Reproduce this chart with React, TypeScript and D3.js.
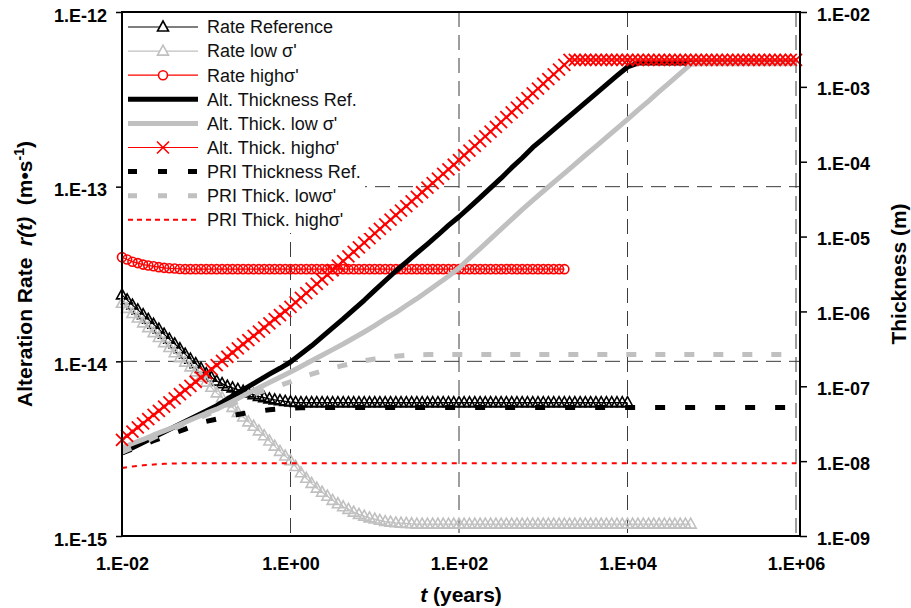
import React, { useEffect, useRef } from 'react';
import * as d3 from 'd3';

// time grid (years) for the plain lines, 8 steps per decade
const years = [
  1e-2, 1.33e-2, 1.78e-2, 2.37e-2, 3.16e-2, 4.22e-2, 5.62e-2, 7.5e-2,
  0.1, 0.133, 0.178, 0.237, 0.316, 0.422, 0.562, 0.75,
  1, 1.33, 1.78, 2.37, 3.16, 4.22, 5.62, 7.5,
  10, 13.3, 17.8, 23.7, 31.6, 42.2, 56.2, 75,
  100, 133, 178, 237, 316, 422, 562, 750,
  1000, 1330, 1780, 2370, 3160, 4220, 5620, 7500,
  1e4, 1.33e4, 1.78e4, 2.37e4, 3.16e4, 4.22e4, 5.62e4, 7.5e4,
  1e5, 1.33e5, 1.78e5, 2.37e5, 3.16e5, 4.22e5, 5.62e5, 7.5e5,
  1e6,
];

// finer time grid (years) for the marker series, 16 steps per decade
const yearsFine = [
  1e-2, 1.15e-2, 1.33e-2, 1.54e-2, 1.78e-2, 2.05e-2, 2.37e-2, 2.74e-2,
  3.16e-2, 3.65e-2, 4.22e-2, 4.87e-2, 5.62e-2, 6.49e-2, 7.5e-2, 8.66e-2,
  1e-1, 1.15e-1, 1.33e-1, 1.54e-1, 1.78e-1, 2.05e-1, 2.37e-1, 2.74e-1,
  3.16e-1, 3.65e-1, 4.22e-1, 4.87e-1, 5.62e-1, 6.49e-1, 7.5e-1, 8.66e-1,
  1, 1.15, 1.33, 1.54, 1.78, 2.05, 2.37, 2.74,
  3.16, 3.65, 4.22, 4.87, 5.62, 6.49, 7.5, 8.66,
  10, 11.5, 13.3, 15.4, 17.8, 20.5, 23.7, 27.4,
  31.6, 36.5, 42.2, 48.7, 56.2, 64.9, 75, 86.6,
  100, 115, 133, 154, 178, 205, 237, 274,
  316, 365, 422, 487, 562, 649, 750, 866,
  1000, 1150, 1330, 1540, 1780, 2050, 2370, 2740,
  3160, 3650, 4220, 4870, 5620, 6490, 7500, 8660,
  1e4, 1.15e4, 1.33e4, 1.54e4, 1.78e4, 2.05e4, 2.37e4, 2.74e4,
  3.16e4, 3.65e4, 4.22e4, 4.87e4, 5.62e4, 6.49e4, 7.5e4, 8.66e4,
  1e5, 1.15e5, 1.33e5, 1.54e5, 1.78e5, 2.05e5, 2.37e5, 2.74e5,
  3.16e5, 3.65e5, 4.22e5, 4.87e5, 5.62e5, 6.49e5, 7.5e5, 8.66e5,
  1e6,
];

// alteration rates (m/s), left axis, on yearsFine
const rateReference = [
  2.4e-14, 2.25e-14, 2.1e-14, 1.97e-14, 1.85e-14, 1.74e-14, 1.63e-14, 1.53e-14,
  1.43e-14, 1.34e-14, 1.26e-14, 1.18e-14, 1.1e-14, 1.03e-14, 9.7e-15, 9.1e-15,
  8.5e-15, 8.1e-15, 7.7e-15, 7.45e-15, 7.2e-15, 7.05e-15, 6.9e-15, 6.75e-15,
  6.6e-15, 6.45e-15, 6.3e-15, 6.2e-15, 6.1e-15, 6.02e-15, 5.95e-15, 5.9e-15,
  5.85e-15, 5.82e-15, 5.8e-15, 5.8e-15, 5.8e-15, 5.8e-15, 5.8e-15, 5.8e-15,
  5.8e-15, 5.8e-15, 5.8e-15, 5.8e-15, 5.8e-15, 5.8e-15, 5.8e-15, 5.8e-15,
  5.8e-15, 5.8e-15, 5.8e-15, 5.8e-15, 5.8e-15, 5.8e-15, 5.8e-15, 5.8e-15,
  5.8e-15, 5.8e-15, 5.8e-15, 5.8e-15, 5.8e-15, 5.8e-15, 5.8e-15, 5.8e-15,
  5.8e-15, 5.8e-15, 5.8e-15, 5.8e-15, 5.8e-15, 5.8e-15, 5.8e-15, 5.8e-15,
  5.8e-15, 5.8e-15, 5.8e-15, 5.8e-15, 5.8e-15, 5.8e-15, 5.8e-15, 5.8e-15,
  5.8e-15, 5.8e-15, 5.8e-15, 5.8e-15, 5.8e-15, 5.8e-15, 5.8e-15, 5.8e-15,
  5.8e-15, 5.8e-15, 5.8e-15, 5.8e-15, 5.8e-15, 5.8e-15, 5.8e-15, 5.8e-15,
  5.8e-15,
];
const rateLowSigma = [
  2.15e-14, 2.01e-14, 1.88e-14, 1.77e-14, 1.66e-14, 1.56e-14, 1.46e-14, 1.37e-14,
  1.28e-14, 1.2e-14, 1.12e-14, 1.05e-14, 9.9e-15, 9.3e-15, 8.7e-15, 8.1e-15,
  7.6e-15, 7.1e-15, 6.6e-15, 6.2e-15, 5.8e-15, 5.45e-15, 5.1e-15, 4.8e-15,
  4.5e-15, 4.25e-15, 4.0e-15, 3.75e-15, 3.5e-15, 3.27e-15, 3.05e-15, 2.87e-15,
  2.7e-15, 2.5e-15, 2.3e-15, 2.14e-15, 2.0e-15, 1.88e-15, 1.78e-15, 1.69e-15,
  1.6e-15, 1.53e-15, 1.47e-15, 1.42e-15, 1.37e-15, 1.33e-15, 1.3e-15, 1.27e-15,
  1.25e-15, 1.23e-15, 1.21e-15, 1.2e-15, 1.19e-15, 1.185e-15, 1.18e-15, 1.175e-15,
  1.17e-15, 1.17e-15, 1.17e-15, 1.17e-15, 1.17e-15, 1.17e-15, 1.17e-15, 1.17e-15,
  1.17e-15, 1.17e-15, 1.17e-15, 1.17e-15, 1.17e-15, 1.17e-15, 1.17e-15, 1.17e-15,
  1.17e-15, 1.17e-15, 1.17e-15, 1.17e-15, 1.17e-15, 1.17e-15, 1.17e-15, 1.17e-15,
  1.17e-15, 1.17e-15, 1.17e-15, 1.17e-15, 1.17e-15, 1.17e-15, 1.17e-15, 1.17e-15,
  1.17e-15, 1.17e-15, 1.17e-15, 1.17e-15, 1.17e-15, 1.17e-15, 1.17e-15, 1.17e-15,
  1.17e-15, 1.17e-15, 1.17e-15, 1.17e-15, 1.17e-15, 1.17e-15, 1.17e-15, 1.17e-15,
  1.17e-15, 1.17e-15, 1.17e-15, 1.17e-15, 1.17e-15,
];
const rateHighSigma = [
  3.95e-14, 3.83e-14, 3.72e-14, 3.65e-14, 3.58e-14, 3.54e-14, 3.5e-14, 3.46e-14,
  3.43e-14, 3.41e-14, 3.4e-14, 3.38e-14, 3.37e-14, 3.37e-14, 3.37e-14, 3.37e-14,
  3.37e-14, 3.37e-14, 3.37e-14, 3.37e-14, 3.37e-14, 3.37e-14, 3.37e-14, 3.37e-14,
  3.37e-14, 3.37e-14, 3.37e-14, 3.37e-14, 3.37e-14, 3.37e-14, 3.37e-14, 3.37e-14,
  3.37e-14, 3.37e-14, 3.37e-14, 3.37e-14, 3.37e-14, 3.37e-14, 3.37e-14, 3.37e-14,
  3.37e-14, 3.37e-14, 3.37e-14, 3.37e-14, 3.37e-14, 3.37e-14, 3.37e-14, 3.37e-14,
  3.37e-14, 3.37e-14, 3.37e-14, 3.37e-14, 3.37e-14, 3.37e-14, 3.37e-14, 3.37e-14,
  3.37e-14, 3.37e-14, 3.37e-14, 3.37e-14, 3.37e-14, 3.37e-14, 3.37e-14, 3.37e-14,
  3.37e-14, 3.37e-14, 3.37e-14, 3.37e-14, 3.37e-14, 3.37e-14, 3.37e-14, 3.37e-14,
  3.37e-14, 3.37e-14, 3.37e-14, 3.37e-14, 3.37e-14, 3.37e-14, 3.37e-14, 3.37e-14,
  3.37e-14, 3.37e-14, 3.37e-14, 3.37e-14, 3.37e-14,
];

// thicknesses (m), right axis
const altThicknessRef = [
  1.29e-8, 1.51e-8, 1.78e-8, 2.09e-8, 2.45e-8, 2.88e-8, 3.39e-8, 3.98e-8,
  4.68e-8, 5.5e-8, 6.76e-8, 8.13e-8, 9.9e-8, 1.2e-7, 1.45e-7, 1.74e-7,
  2.11e-7, 2.69e-7, 3.47e-7, 4.57e-7, 6.03e-7, 7.94e-7, 1.06e-6, 1.41e-6,
  1.91e-6, 2.57e-6, 3.47e-6, 4.57e-6, 6.03e-6, 7.94e-6, 1.05e-5, 1.41e-5,
  1.84e-5, 2.45e-5, 3.31e-5, 4.47e-5, 6.03e-5, 8.32e-5, 1.12e-4, 1.55e-4,
  2.04e-4, 2.69e-4, 3.55e-4, 4.68e-4, 6.17e-4, 8.13e-4, 1.07e-3, 1.41e-3,
  1.84e-3, 2.08e-3, 2.08e-3, 2.08e-3, 2.08e-3, 2.08e-3, 2.08e-3, 2.08e-3,
  2.08e-3, 2.08e-3, 2.08e-3, 2.08e-3, 2.08e-3, 2.08e-3, 2.08e-3, 2.08e-3,
  2.08e-3,
];
const altThickLow = [
  1.51e-8, 1.72e-8, 1.95e-8, 2.24e-8, 2.54e-8, 2.88e-8, 3.31e-8, 3.8e-8,
  4.37e-8, 4.95e-8, 5.82e-8, 6.84e-8, 8.13e-8, 9.55e-8, 1.12e-7, 1.32e-7,
  1.55e-7, 1.84e-7, 2.19e-7, 2.6e-7, 3.09e-7, 3.67e-7, 4.42e-7, 5.31e-7,
  6.46e-7, 7.94e-7, 9.66e-7, 1.2e-6, 1.48e-6, 1.86e-6, 2.34e-6, 2.95e-6,
  3.8e-6, 5.13e-6, 6.92e-6, 9.33e-6, 1.26e-5, 1.7e-5, 2.29e-5, 3.05e-5,
  4.03e-5, 5.31e-5, 7.0e-5, 9.23e-5, 1.22e-4, 1.6e-4, 2.11e-4, 2.79e-4,
  3.67e-4, 4.9e-4, 6.46e-4, 8.61e-4, 1.14e-3, 1.51e-3, 2.0e-3, 2.04e-3,
  2.04e-3, 2.04e-3, 2.04e-3, 2.04e-3, 2.04e-3, 2.04e-3, 2.04e-3, 2.04e-3,
  2.04e-3,
];
// on yearsFine
const altThickHigh = [
  1.92e-8, 2.18e-8, 2.48e-8, 2.82e-8, 3.2e-8, 3.64e-8, 4.14e-8, 4.71e-8,
  5.35e-8, 6.08e-8, 6.9e-8, 7.84e-8, 8.9e-8, 1.01e-7, 1.15e-7, 1.31e-7,
  1.49e-7, 1.69e-7, 1.92e-7, 2.18e-7, 2.48e-7, 2.82e-7, 3.21e-7, 3.65e-7,
  4.15e-7, 4.72e-7, 5.36e-7, 6.09e-7, 6.92e-7, 7.87e-7, 8.94e-7, 1.01e-6,
  1.15e-6, 1.32e-6, 1.52e-6, 1.75e-6, 2.02e-6, 2.33e-6, 2.68e-6, 3.08e-6,
  3.55e-6, 4.09e-6, 4.71e-6, 5.42e-6, 6.24e-6, 7.19e-6, 8.28e-6, 9.54e-6,
  1.1e-5, 1.27e-5, 1.46e-5, 1.68e-5, 1.93e-5, 2.22e-5, 2.56e-5, 2.95e-5,
  3.39e-5, 3.91e-5, 4.5e-5, 5.18e-5, 5.96e-5, 6.86e-5, 7.9e-5, 9.11e-5,
  1.05e-4, 1.22e-4, 1.41e-4, 1.63e-4, 1.88e-4, 2.18e-4, 2.53e-4, 2.93e-4,
  3.39e-4, 3.93e-4, 4.55e-4, 5.27e-4, 6.1e-4, 7.06e-4, 8.18e-4, 9.49e-4,
  1.1e-3, 1.27e-3, 1.47e-3, 1.7e-3, 1.97e-3, 2.29e-3, 2.29e-3, 2.29e-3,
  2.29e-3, 2.29e-3, 2.29e-3, 2.29e-3, 2.29e-3, 2.29e-3, 2.29e-3, 2.29e-3,
  2.29e-3, 2.29e-3, 2.29e-3, 2.29e-3, 2.29e-3, 2.29e-3, 2.29e-3, 2.29e-3,
  2.29e-3, 2.29e-3, 2.29e-3, 2.29e-3, 2.29e-3, 2.29e-3, 2.29e-3, 2.29e-3,
  2.29e-3, 2.29e-3, 2.29e-3, 2.29e-3, 2.29e-3, 2.29e-3, 2.29e-3, 2.29e-3,
  2.29e-3, 2.29e-3, 2.29e-3, 2.29e-3, 2.29e-3, 2.29e-3, 2.29e-3, 2.29e-3,
  2.29e-3,
];
const priThicknessRef = [
  1.29e-8, 1.45e-8, 1.65e-8, 1.87e-8, 2.12e-8, 2.38e-8, 2.68e-8, 3.05e-8,
  3.4e-8, 3.65e-8, 3.95e-8, 4.2e-8, 4.45e-8, 4.65e-8, 4.85e-8, 4.98e-8,
  5.08e-8, 5.15e-8, 5.2e-8, 5.2e-8, 5.2e-8, 5.2e-8, 5.2e-8, 5.2e-8,
  5.2e-8, 5.2e-8, 5.2e-8, 5.2e-8, 5.2e-8, 5.2e-8, 5.2e-8, 5.2e-8,
  5.2e-8, 5.2e-8, 5.2e-8, 5.2e-8, 5.2e-8, 5.2e-8, 5.2e-8, 5.2e-8,
  5.2e-8, 5.2e-8, 5.2e-8, 5.2e-8, 5.2e-8, 5.2e-8, 5.2e-8, 5.2e-8,
  5.2e-8, 5.2e-8, 5.2e-8, 5.2e-8, 5.2e-8, 5.2e-8, 5.2e-8, 5.2e-8,
  5.2e-8, 5.2e-8, 5.2e-8, 5.2e-8, 5.2e-8, 5.2e-8, 5.2e-8, 5.2e-8,
  5.2e-8,
];
const priThickLow = [
  1.32e-8, 1.52e-8, 1.76e-8, 2.05e-8, 2.38e-8, 2.75e-8, 3.15e-8, 3.6e-8,
  4.15e-8, 4.65e-8, 5.4e-8, 6.2e-8, 7.1e-8, 8.3e-8, 9.2e-8, 1.03e-7,
  1.15e-7, 1.3e-7, 1.45e-7, 1.6e-7, 1.75e-7, 1.9e-7, 2.05e-7, 2.2e-7,
  2.32e-7, 2.44e-7, 2.52e-7, 2.58e-7, 2.62e-7, 2.65e-7, 2.65e-7, 2.65e-7,
  2.65e-7, 2.65e-7, 2.65e-7, 2.65e-7, 2.65e-7, 2.65e-7, 2.65e-7, 2.65e-7,
  2.65e-7, 2.65e-7, 2.65e-7, 2.65e-7, 2.65e-7, 2.65e-7, 2.65e-7, 2.65e-7,
  2.65e-7, 2.65e-7, 2.65e-7, 2.65e-7, 2.65e-7, 2.65e-7, 2.65e-7, 2.65e-7,
  2.65e-7, 2.65e-7, 2.65e-7, 2.65e-7, 2.65e-7, 2.65e-7, 2.65e-7, 2.65e-7,
  2.65e-7,
];
const priThickHigh = [
  8.1e-9, 8.5e-9, 8.8e-9, 9.0e-9, 9.2e-9, 9.3e-9, 9.4e-9, 9.4e-9,
  9.4e-9, 9.4e-9, 9.4e-9, 9.4e-9, 9.4e-9, 9.4e-9, 9.4e-9, 9.4e-9,
  9.4e-9, 9.4e-9, 9.4e-9, 9.4e-9, 9.4e-9, 9.4e-9, 9.4e-9, 9.4e-9,
  9.4e-9, 9.4e-9, 9.4e-9, 9.4e-9, 9.4e-9, 9.4e-9, 9.4e-9, 9.4e-9,
  9.4e-9, 9.4e-9, 9.4e-9, 9.4e-9, 9.4e-9, 9.4e-9, 9.4e-9, 9.4e-9,
  9.4e-9, 9.4e-9, 9.4e-9, 9.4e-9, 9.4e-9, 9.4e-9, 9.4e-9, 9.4e-9,
  9.4e-9, 9.4e-9, 9.4e-9, 9.4e-9, 9.4e-9, 9.4e-9, 9.4e-9, 9.4e-9,
  9.4e-9, 9.4e-9, 9.4e-9, 9.4e-9, 9.4e-9, 9.4e-9, 9.4e-9, 9.4e-9,
  9.4e-9,
];

const xTicks = [1e-2, 1e0, 1e2, 1e4, 1e6];
const rateTicks = [1e-15, 1e-14, 1e-13, 1e-12];
const thickTicks = [1e-9, 1e-8, 1e-7, 1e-6, 1e-5, 1e-4, 1e-3, 1e-2];
const xGrid = [1e0, 1e2, 1e4, 1e6];
const rateGrid = [1e-14, 1e-13];

const GRAY = '#c0c0c0';
const RED = '#ff0000';

const series = [
  { label: 'Rate Reference', t: yearsFine, values: rateReference, axis: 'rate', color: '#000', width: 1.2, marker: 'triangle' },
  { label: "Rate low \u03c3'", t: yearsFine, values: rateLowSigma, axis: 'rate', color: GRAY, width: 1.2, marker: 'triangle' },
  { label: "Rate high\u03c3'", t: yearsFine, values: rateHighSigma, axis: 'rate', color: RED, width: 1.2, marker: 'circle' },
  { label: 'Alt. Thickness Ref.', t: years, values: altThicknessRef, axis: 'thick', color: '#000', width: 5 },
  { label: "Alt. Thick. low \u03c3'", t: years, values: altThickLow, axis: 'thick', color: GRAY, width: 5 },
  { label: "Alt. Thick. high\u03c3'", t: yearsFine, values: altThickHigh, axis: 'thick', color: RED, width: 1.2, marker: 'x' },
  { label: 'PRI Thickness Ref.', t: years, values: priThicknessRef, axis: 'thick', color: '#000', width: 5, dash: '10,20', legendDash: '9,21' },
  { label: "PRI Thick. low\u03c3'", t: years, values: priThickLow, axis: 'thick', color: GRAY, width: 5, dash: '10,19', legendDash: '9,21' },
  { label: "PRI Thick. high\u03c3'", t: years, values: priThickHigh, axis: 'thick', color: RED, width: 2, dash: '5,5', legendDash: '5,4' },
];

const markerPath = {
  triangle: 'M0,-6L5.5,4L-5.5,4Z',
  x: 'M-6,-6L6,6M-6,6L6,-6',
};

const fmtE = (v) => {
  const e = Math.round(Math.log10(v));
  return '1.E' + (e < 0 ? '-' : '+') + String(Math.abs(e)).padStart(2, '0');
};

const App = () => {
  const svgRef = useRef(null);

  useEffect(() => {
    const width = 911;
    const height = 608;
    const left = 122, right = 800, top = 12, bottom = 536;
    const font = '"Liberation Sans", Arial, Helvetica, sans-serif';

    const svg = d3.select(svgRef.current);
    svg.selectAll('*').remove();
    svg.attr('width', width).attr('height', height).style('font-family', font);

    svg.append('rect').attr('width', width).attr('height', height).attr('fill', '#fff');

    const x = d3.scaleLog().domain([1e-2, 1e6]).range([left, 796]);
    const yRate = d3.scaleLog().domain([1e-15, 1e-12]).range([bottom, top]);
    const yThick = d3.scaleLog().domain([1e-9, 1e-2]).range([bottom, top]);

    // Gridlines
    const grid = svg.append('g')
      .attr('stroke', '#3c3c3c')
      .attr('stroke-width', 1)
      .attr('stroke-dasharray', '15,8');
    xGrid.forEach(t => {
      grid.append('line')
        .attr('x1', x(t)).attr('x2', x(t))
        .attr('y1', top).attr('y2', bottom);
    });
    rateGrid.forEach(r => {
      grid.append('line')
        .attr('x1', left).attr('x2', right)
        .attr('y1', yRate(r)).attr('y2', yRate(r));
    });

    // Series, in drawing order
    series.forEach(s => {
      const y = s.axis === 'rate' ? yRate : yThick;
      const pts = s.values.map((v, i) => [x(s.t[i]), y(v)]);
      const g = svg.append('g');
      g.append('path')
        .attr('d', d3.line()(pts))
        .attr('fill', 'none')
        .attr('stroke', s.color)
        .attr('stroke-width', s.width)
        .attr('stroke-dasharray', s.dash || null)
        .attr('stroke-linejoin', 'round');

      if (s.marker === 'circle') {
        g.selectAll('circle').data(pts).enter().append('circle')
          .attr('cx', d => d[0]).attr('cy', d => d[1]).attr('r', 4.5)
          .attr('fill', 'none').attr('stroke', s.color).attr('stroke-width', 1.6);
      } else if (s.marker) {
        g.selectAll('path.m').data(pts).enter().append('path')
          .attr('class', 'm')
          .attr('transform', d => `translate(${d[0]},${d[1]})`)
          .attr('d', markerPath[s.marker])
          .attr('fill', 'none')
          .attr('stroke', s.color)
          .attr('stroke-width', s.marker === 'x' ? 1.8 : 1.6);
      }
    });

    // Plot frame
    svg.append('rect')
      .attr('x', left).attr('y', top)
      .attr('width', right - left).attr('height', bottom - top)
      .attr('fill', 'none').attr('stroke', '#000').attr('stroke-width', 2);

    // Axes
    const styleAxis = (sel) => {
      sel.select('.domain').remove();
      sel.selectAll('line').attr('stroke', '#000').attr('stroke-width', 1.5);
      sel.selectAll('text')
        .attr('fill', '#000')
        .style('font-family', font)
        .style('font-size', '18px')
        .style('font-weight', 'bold');
    };

    svg.append('g')
      .attr('transform', `translate(${left},0)`)
      .call(d3.axisLeft(yRate).tickValues(rateTicks).tickFormat(fmtE).tickSize(6).tickPadding(9))
      .call(styleAxis)
      .selectAll('text').attr('dy', '0.5em');

    svg.append('g')
      .attr('transform', `translate(${right},0)`)
      .call(d3.axisRight(yThick).tickValues(thickTicks).tickFormat(fmtE).tickSize(7).tickPadding(10))
      .call(styleAxis)
      .selectAll('text').attr('dy', '0.45em');

    svg.append('g')
      .attr('transform', `translate(0,${bottom})`)
      .call(d3.axisBottom(x).tickValues(xTicks).tickFormat(fmtE).tickSize(0).tickPadding(21))
      .call(styleAxis);

    // Axis titles
    const leftTitle = svg.append('text')
      .attr('transform', `translate(32,${(top + bottom) / 2}) rotate(-90)`)
      .attr('text-anchor', 'middle')
      .style('font-size', '21px')
      .style('font-weight', 'bold')
      .style('white-space', 'pre');
    leftTitle.append('tspan').text('Alteration Rate  ');
    leftTitle.append('tspan').style('font-style', 'italic').text('r(t)');
    leftTitle.append('tspan').text('  (m\u2022s');
    leftTitle.append('tspan').attr('dy', -8).style('font-size', '14px').text('-1');
    leftTitle.append('tspan').attr('dy', 8).text(')');

    svg.append('text')
      .attr('transform', `translate(906,${(top + bottom) / 2}) rotate(-90)`)
      .attr('text-anchor', 'middle')
      .style('font-size', '21px')
      .style('font-weight', 'bold')
      .text('Thickness (m)');

    const xTitle = svg.append('text')
      .attr('x', (left + right) / 2)
      .attr('y', 602)
      .attr('text-anchor', 'middle')
      .style('font-size', '21px')
      .style('font-weight', 'bold')
      .style('white-space', 'pre');
    xTitle.append('tspan').style('font-style', 'italic').text('t');
    xTitle.append('tspan').text(' (years)');

    // Legend
    const legend = svg.append('g');
    legend.append('rect')
      .attr('x', left + 1).attr('y', top + 1)
      .attr('width', 242).attr('height', 220)
      .attr('fill', '#fff');

    series.forEach((s, i) => {
      const ly = 27 + i * 24.1;
      const item = legend.append('g');
      item.append('line')
        .attr('x1', 128).attr('x2', 198)
        .attr('y1', ly).attr('y2', ly)
        .attr('stroke', s.color)
        .attr('stroke-width', s.width)
        .attr('stroke-dasharray', s.legendDash || null);
      if (s.marker === 'circle') {
        item.append('circle')
          .attr('cx', 163).attr('cy', ly).attr('r', 4.5)
          .attr('fill', '#fff').attr('stroke', s.color).attr('stroke-width', 1.6);
      } else if (s.marker) {
        item.append('path')
          .attr('transform', `translate(163,${ly})`)
          .attr('d', markerPath[s.marker])
          .attr('fill', s.marker === 'triangle' ? '#fff' : 'none')
          .attr('stroke', s.color)
          .attr('stroke-width', 1.6);
      }
      item.append('text')
        .attr('x', 207)
        .attr('y', ly)
        .attr('dy', '0.35em')
        .attr('fill', '#111')
        .style('font-size', '18px')
        .text(s.label);
    });
  }, []);

  return (
    <div style={{ position: 'absolute', left: 0, top: 0 }}>
      <svg ref={svgRef} style={{ display: 'block' }}></svg>
    </div>
  );
};

export default App;
